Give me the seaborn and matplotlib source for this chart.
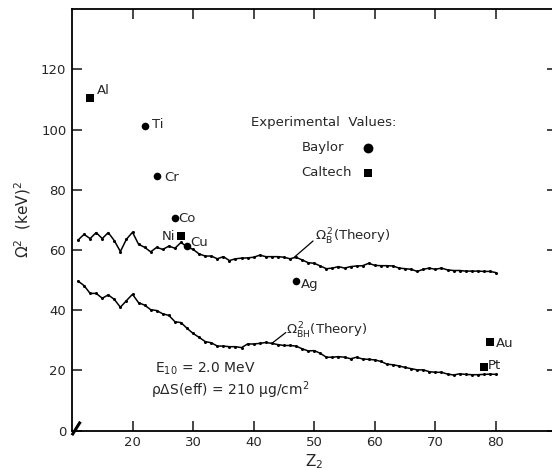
import numpy as np
import pandas as pd
import matplotlib
matplotlib.use("Agg")
import matplotlib.pyplot as plt
import seaborn as sns

# ---- data ----
z_theory = list(range(11, 81))
omega_b = [63.3, 65.2, 63.8, 65.8, 63.8, 65.8, 63.1, 59.5, 63.6, 65.9,
           61.9, 60.9, 59.4, 60.9, 60.2, 61.3, 60.6, 62.5, 61.1, 60.2,
           58.7, 58.0, 58.0, 57.1, 57.8, 56.5, 57.1, 57.3, 57.4, 57.6,
           58.3, 57.8, 57.8, 57.8, 57.6, 57.1, 57.6, 56.7, 55.8, 55.6,
           54.7, 53.8, 54.0, 54.5, 54.0, 54.5, 54.7, 54.8, 55.6, 54.9,
           54.8, 54.8, 54.7, 54.0, 53.8, 53.6, 52.9, 53.6, 54.0, 53.6,
           54.0, 53.4, 53.2, 53.2, 53.0, 53.0, 53.0, 52.9, 52.9, 52.5]
omega_bh = [49.7, 48.2, 45.6, 45.6, 44.0, 45.1, 43.6, 41.0, 43.2, 45.3,
            42.5, 41.7, 40.2, 39.9, 38.8, 38.3, 36.2, 35.9, 34.0, 32.3,
            31.0, 29.6, 29.2, 28.1, 28.1, 27.9, 27.9, 27.6, 28.8, 28.8,
            29.0, 29.3, 29.0, 28.6, 28.3, 28.3, 28.1, 27.2, 26.5, 26.6,
            25.7, 24.4, 24.4, 24.6, 24.4, 23.9, 24.4, 23.8, 23.7, 23.5,
            23.0, 22.1, 21.9, 21.5, 21.0, 20.6, 20.2, 20.2, 19.6, 19.4,
            19.4, 18.8, 18.5, 18.9, 18.7, 18.6, 18.6, 18.7, 18.8, 18.7]

baylor_el = ["Ti", "Cr", "Co", "Cu", "Ag"]
baylor_z = [22, 24, 27, 29, 47]
baylor_val = [101.3, 84.7, 70.5, 61.3, 49.7]

caltech_el = ["Al", "Ni", "Au", "Pt"]
caltech_z = [13, 28, 79, 78]
caltech_val = [110.6, 64.5, 29.6, 21.3]

x_ticks = [20, 30, 40, 50, 60, 70, 80]
y_ticks = [0, 20, 40, 60, 80, 100, 120]

# ---- plot ----
sns.set_theme(style="ticks")
plt.rcParams["font.family"] = ["DejaVu Sans"]
plt.rcParams["mathtext.fontset"] = "dejavusans"
plt.rcParams["mathtext.default"] = "regular"

fig = plt.figure(figsize=(5.52, 4.70), dpi=100)
ax = fig.add_axes([0.1303, 0.0836, 0.878, 0.897])

df_b = pd.DataFrame({"Z": z_theory, "val": omega_b})
df_bh = pd.DataFrame({"Z": z_theory, "val": omega_bh})
for d in (df_b, df_bh):
    sns.lineplot(data=d, x="Z", y="val", ax=ax, color="black", lw=1.1,
                 marker="o", markersize=2.2, markeredgewidth=0)

sns.scatterplot(x=baylor_z, y=baylor_val, ax=ax, marker="o", s=30,
                color="black", edgecolor="black", linewidth=0)
sns.scatterplot(x=caltech_z, y=caltech_val, ax=ax, marker="s", s=34,
                color="black", edgecolor="black", linewidth=0)

# legend-like markers
sns.scatterplot(x=[58.9], y=[94.0], ax=ax, marker="o", s=50, color="black", linewidth=0)
sns.scatterplot(x=[58.9], y=[85.7], ax=ax, marker="s", s=40, color="black", linewidth=0)

fs = 9.5
# point labels
labels = {
    "Al": (14.2, 113.0, "left"),
    "Ti": (23.2, 101.8, "left"),
    "Cr": (25.2, 84.2, "left"),
    "Co": (27.6, 70.5, "left"),
    "Ni": (27.0, 64.6, "right"),
    "Cu": (29.6, 62.6, "left"),
    "Ag": (47.8, 48.4, "left"),
    "Au": (79.9, 28.8, "left"),
    "Pt": (78.7, 21.5, "left"),
}
for t, (x, y, ha) in labels.items():
    ax.text(x, y, t, fontsize=fs, ha=ha, va="center", fontweight="medium")

ax.text(39.6, 102.2, "Experimental  Values:", fontsize=fs, ha="left", va="center")
ax.text(47.9, 94.0, "Baylor", fontsize=fs, ha="left", va="center")
ax.text(47.9, 85.7, "Caltech", fontsize=fs, ha="left", va="center")

ax.text(50.2, 64.5, r"$\Omega_B^{\,2}$(Theory)", fontsize=fs, ha="left", va="center")
ax.plot([46.7, 49.8], [57.6, 63.0], color="black", lw=0.9)
ax.text(45.3, 33.2, r"$\Omega_{BH}^{\,2}$(Theory)", fontsize=fs, ha="left", va="center")
ax.plot([43.0, 45.3], [29.0, 32.6], color="black", lw=0.9)

ax.text(23.7, 20.7, r"E$_{10}$ = 2.0 MeV", fontsize=fs + 0.5, ha="left", va="center")
ax.text(23.0, 13.5, r"$\rho\Delta$S(eff) = 210 $\mu$g/cm$^2$", fontsize=fs + 0.5,
        ha="left", va="center")

ax.set_xlim(10, 90)
ax.set_ylim(0, 140)
ax.set_xticks(x_ticks)
ax.set_yticks(y_ticks)
ax.tick_params(axis="both", direction="in", length=7, width=1.2, labelsize=fs,
               top=True, right=True, pad=4)
for s in ax.spines.values():
    s.set_linewidth(1.3)
    s.set_color("black")

ax.set_xlabel(r"Z$_2$", fontsize=11, labelpad=2)
ax.set_ylabel(r"$\Omega^2$  (keV)$^2$", fontsize=11, labelpad=6)

# axis break mark at origin
ax.plot([10.0, 11.4], [-1.5, 3.0], color="black", lw=2.2, clip_on=False,
        solid_capstyle="butt")

fig.savefig("out.png", dpi=100)
